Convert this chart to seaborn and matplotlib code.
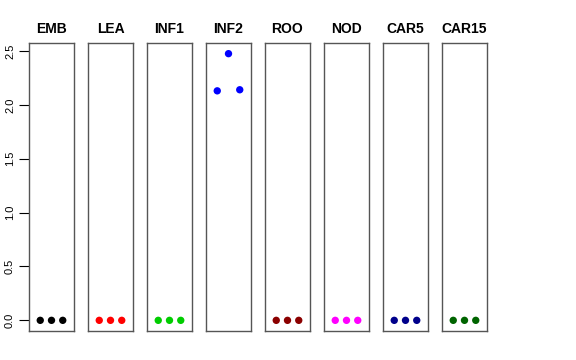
import matplotlib
matplotlib.use("Agg")
import matplotlib.pyplot as plt
import seaborn as sns
import pandas as pd

sns.set_style("white")
plt.rcParams['font.family'] = ['Liberation Sans', 'DejaVu Sans']
plt.rcParams['text.color'] = 'black'
plt.rcParams['ytick.color'] = 'black'
plt.rcParams['axes.titlecolor'] = 'black'

tissues = ["EMB", "LEA", "INF1", "INF2", "ROO", "NOD", "CAR5", "CAR15"]
colors = ["#000000", "#FF0000", "#00CD00", "#0000FF", "#8B0000", "#FF00FF", "#00008B", "#006400"]
replicate = [1, 2, 3]
values = {
    "EMB": [0.0, 0.0, 0.0],
    "LEA": [0.0, 0.0, 0.0],
    "INF1": [0.0, 0.0, 0.0],
    "INF2": [2.13, 2.475, 2.14],
    "ROO": [0.0, 0.0, 0.0],
    "NOD": [0.0, 0.0, 0.0],
    "CAR5": [0.0, 0.0, 0.0],
    "CAR15": [0.0, 0.0, 0.0],
}
yticks = [0.0, 0.5, 1.0, 1.5, 2.0, 2.5]

rows = []
for t in tissues:
    for r, v in zip(replicate, values[t]):
        rows.append({"tissue": t, "rep": r, "value": v})
df = pd.DataFrame(rows)

W, H = 576, 360
fig = plt.figure(figsize=(W / 100, H / 100), dpi=100)
ymax = max(max(v) for v in values.values())
pad = 0.04 * ymax
for i, (t, c) in enumerate(zip(tissues, colors)):
    x0 = 29 + 59 * i
    ax = fig.add_axes([x0 / W, 1 - 331 / H, 45 / W, 288 / H])
    sub = df[df.tissue == t]
    sns.scatterplot(data=sub, x="rep", y="value", color=c, s=28, edgecolor="none", ax=ax, legend=False)
    ax.set_xlim(0, 4)
    ax.set_ylim(-pad, ymax + pad)
    ax.set_xticks([])
    ax.set_xlabel("")
    ax.set_ylabel("")
    ax.set_title(t, fontsize=10, fontweight="bold", pad=7, color="black")
    for s in ax.spines.values():
        s.set_color("#555555")
        s.set_linewidth(1.0)
    if i == 0:
        ax.set_yticks(yticks)
        ax.set_yticklabels([f"{v:.1f}" for v in yticks], rotation=90, va="center", fontsize=8, color="black")
        ax.tick_params(axis="y", left=True, length=7, width=0.8, pad=3, color="black")
    else:
        ax.set_yticks([])

fig.savefig("out.png", dpi=100)
